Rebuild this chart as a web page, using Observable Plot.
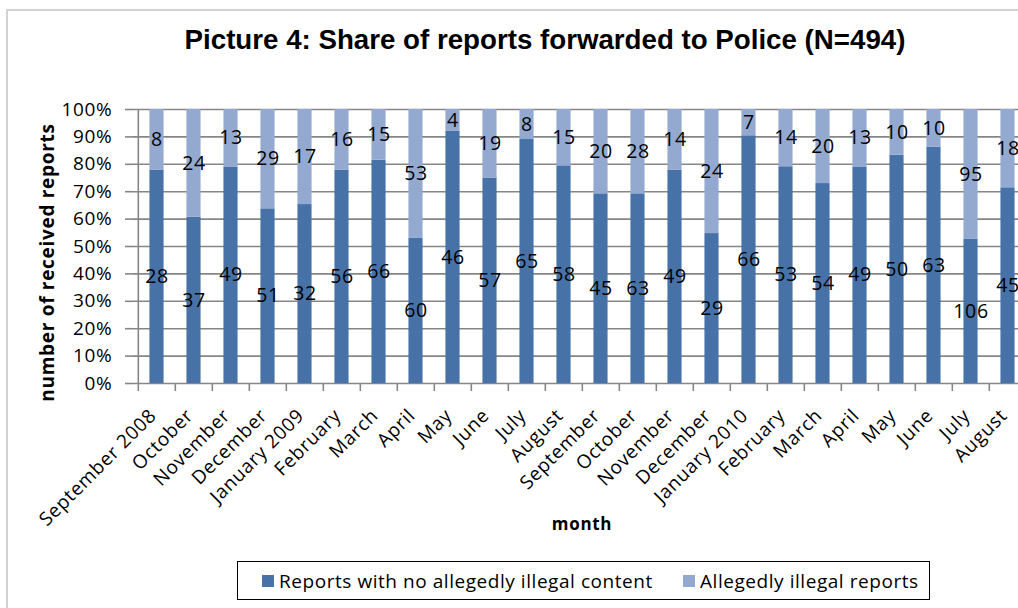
<!DOCTYPE html>
<html>
<head>
<meta charset="utf-8">
<script src="https://cdn.jsdelivr.net/npm/d3@7"></script>
<script src="https://cdn.jsdelivr.net/npm/@observablehq/plot@0.6"></script>
<style>
  html, body { margin: 0; padding: 0; background: #fff; }
  body { width: 1018px; height: 608px; overflow: hidden; }
  #wrap { position: relative; width: 1018px; height: 608px; overflow: hidden; }
  #border { position: absolute; left: 6px; top: 9px; width: 1100px; height: 700px;
            border-top: 2px solid #d2d2d2; border-left: 2px solid #d2d2d2; }
  #title { position: absolute; left: 0; top: 26px; width: 1090px; text-align: center;
           font: bold 27.7px "Liberation Sans", Arial, sans-serif; line-height: 28px; color: #000; white-space: nowrap; }
  #chart { position: absolute; left: 0; top: 0; }
  #chart svg { max-width: none !important; }
  #legend { position: absolute; left: 237px; top: 561px; width: 691px; height: 37px;
            border: 1.5px solid #000; background: #fff; box-sizing: content-box;
            font: 19px "Open Sans", sans-serif; letter-spacing: 0.55px; color: #000; }
  .item { position: absolute; top: 0; height: 37px; display: flex; align-items: center; white-space: nowrap; }
  .sw { width: 12px; height: 12px; margin-right: 5px; display: inline-block; }
</style>
</head>
<body>
<div id="wrap">
  <div id="border"></div>
  <div id="chart"></div>
  <div id="title"></div>
  <div id="legend"></div>
</div>
<script>
const titleText = "Picture 4: Share of reports forwarded to Police (N=494)";
const xTitle = "month";
const yTitle = "number of received reports";

const months = ["September 2008","October","November","December","January 2009","February","March","April","May","June","July","August",
                "September","October","November","December","January 2010","February","March","April","May","June","July","August"];
const noIllegal = [28,37,49,51,32,56,66,60,46,57,65,58,45,63,49,29,66,53,54,49,50,63,106,45];
const illegal   = [8,24,13,29,17,16,15,53,4,19,8,15,20,28,14,24,7,14,20,13,10,10,95,18];
const seriesNames = ["Reports with no allegedly illegal content", "Allegedly illegal reports"];
const seriesColors = ["#4672a8", "#93a9d0"];
const yTicks = [0,0.1,0.2,0.3,0.4,0.5,0.6,0.7,0.8,0.9,1];

document.getElementById("title").textContent = titleText;

const idx = months.map((m, i) => i);
const rows = [];
idx.forEach(i => {
  rows.push({i, series: seriesNames[0], value: noIllegal[i]});
  rows.push({i, series: seriesNames[1], value: illegal[i]});
});

const W = 1030, H = 608, ML = 133, MR = 0, MT = 109, MB = 225;
const bw = (W - ML - MR) / months.length;
const barW = 14.5;
const inset = (bw - barW) / 2;
const gridColor = "#868686";

const stackOpts = {offset: "normalize", order: seriesNames, x: "i", y: "value", fill: "series"};

const chart = Plot.plot({
  width: W, height: H,
  marginLeft: ML, marginRight: MR, marginTop: MT, marginBottom: MB,
  style: {fontFamily: "'Open Sans', sans-serif", fontSize: "19px", letterSpacing: "0.7px", color: "#000",
          background: "transparent", overflow: "visible", maxWidth: "none"},
  x: {type: "band", domain: idx, padding: 0, label: null},
  y: {domain: [0, 1], label: null},
  color: {domain: seriesNames, range: seriesColors},
  marks: [
    Plot.gridY(yTicks, {stroke: gridColor, strokeOpacity: 1, strokeWidth: 1.6}),
    Plot.axisY(yTicks, {tickFormat: d3.format(".0%"), tickSize: 8, tickPadding: 13, stroke: gridColor, strokeWidth: 1.6, label: null, fontSize: 19}),
    Plot.ruleX([0], {dx: -bw / 2, stroke: gridColor, strokeWidth: 1.6}),
    Plot.ruleX(idx, {y1: 0, y2: 0, insetBottom: -8, dx: -bw / 2, stroke: gridColor, strokeWidth: 1.6}),
    Plot.barY(rows, Plot.stackY({...stackOpts, insetLeft: inset, insetRight: inset})),
    Plot.text(rows, Plot.stackY({offset: "normalize", order: seriesNames, x: "i", y: "value", z: "series", text: "value", fill: "#000", fontSize: 19.5})),
    Plot.axisX({tickRotate: -45, tickSize: 0, tickPadding: 29, dx: -4, tickFormat: i => months[i], label: null, fontSize: 19}),
    Plot.text([xTitle], {frameAnchor: "bottom", dy: 146, lineAnchor: "bottom", fontWeight: "bold", fontSize: 17}),
    Plot.text([yTitle], {frameAnchor: "left", textAnchor: "middle", dx: -86, dy: 16, rotate: -90, fontWeight: "bold", fontSize: 19})
  ]
});
document.getElementById("chart").appendChild(chart);

// legend
const legend = document.getElementById("legend");
const lefts = [24, 445];
seriesNames.forEach((s, k) => {
  const it = document.createElement("div");
  it.className = "item";
  it.style.left = lefts[k] + "px";
  const sw = document.createElement("span");
  sw.className = "sw";
  sw.style.background = seriesColors[k];
  const tx = document.createElement("span");
  tx.textContent = s;
  it.appendChild(sw); it.appendChild(tx);
  legend.appendChild(it);
});
</script>
</body>
</html>
